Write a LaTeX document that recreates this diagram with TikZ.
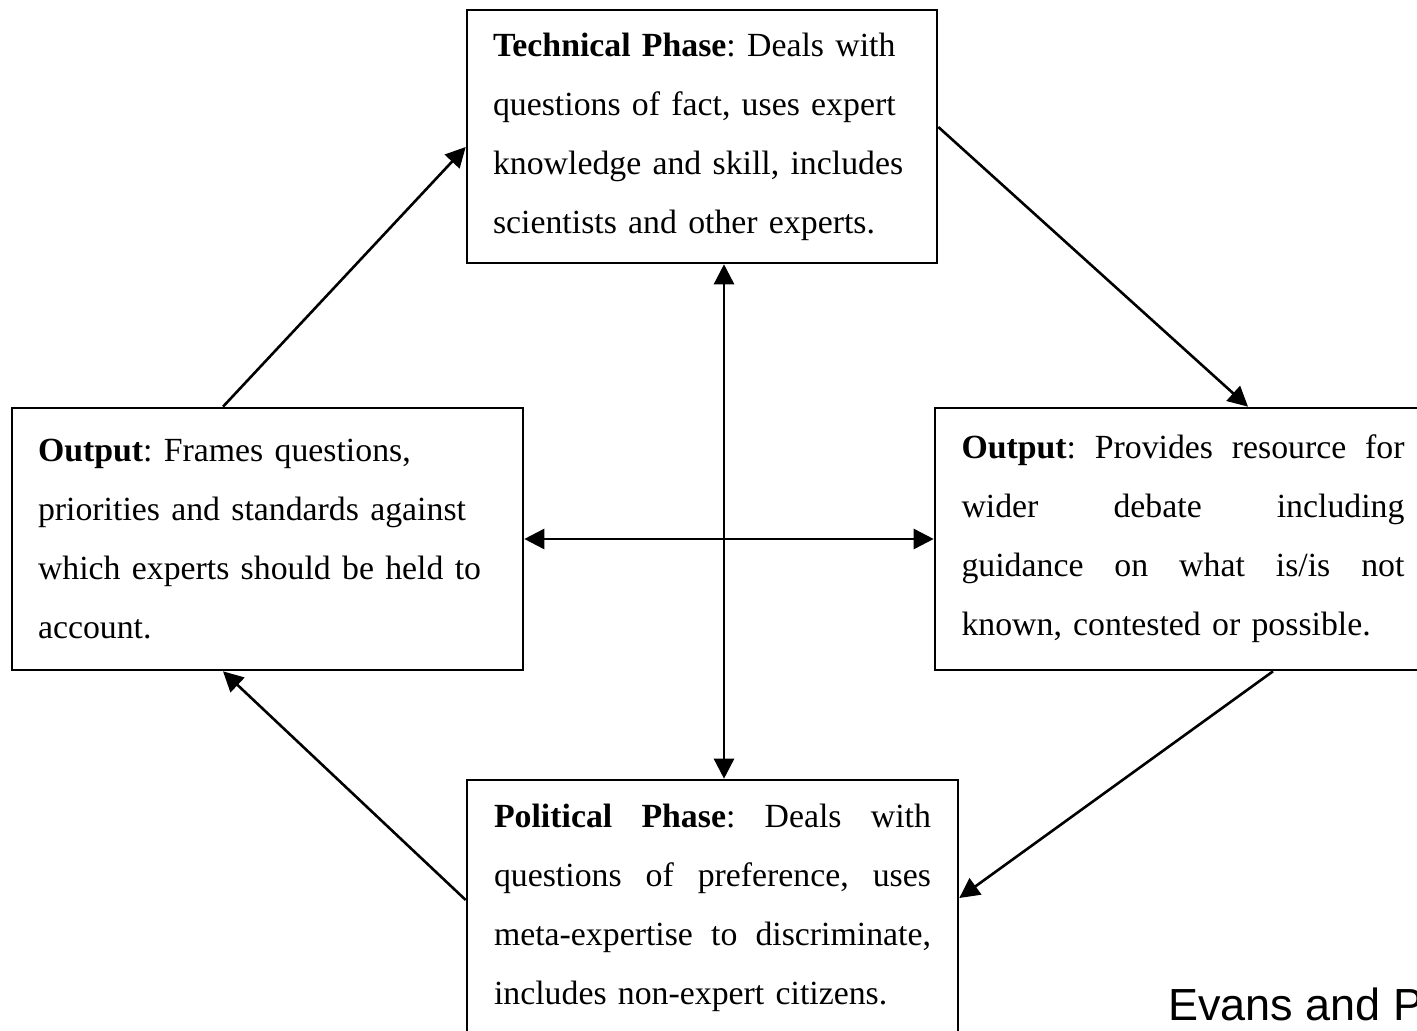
\documentclass[tikz,border=0pt]{standalone}
\usepackage{fontspec}
\setmainfont{Liberation Serif}
\newfontfamily\credfont{Liberation Sans}
\usepackage{tikz}
\usetikzlibrary{arrows.meta}
\tikzstyle{phase}=[rectangle,draw,line width=1.3pt,inner xsep=13pt,inner ysep=0pt,align=left,font=\frenchspacing\fontsize{16.9}{29.5}\selectfont]
\tikzstyle{link}=[line width=1.3pt,-{Triangle[length=10pt,width=10pt]}]
\tikzstyle{both}=[line width=1.3pt,{Triangle[length=10pt,width=10pt]}-{Triangle[length=10pt,width=10pt]}]
% justified line of a given width
\newcommand{\jline}[2]{\leavevmode\hbox to #1{\spaceskip=\fontdimen2\font plus 1fil\relax #2}}

\begin{document}
\begin{tikzpicture}[x=0.5pt,y=-0.5pt]
  \useasboundingbox (0,0) rectangle (1417,1031);

  % boxes
  \node[phase,text width=209pt,minimum height=126.5pt] (tech) at (702,136.5)
    {\textbf{Technical Phase}: Deals with\\questions of fact, uses expert\\knowledge and skill, includes\\scientists and other experts.};
  \node[phase,text width=229.5pt,minimum height=131pt] (outL) at (267.5,539)
    {\textbf{Output}: Frames questions,\\priorities and standards against\\which experts should be held to\\account.};
  \node[phase,text width=222pt,inner xsep=13.25pt,minimum height=131pt] (outR) at (1183.5,539)
    {\jline{221.5pt}{\textbf{Output}: Provides resource for}\\\jline{221.5pt}{wider debate including}\\\jline{221.5pt}{guidance on what is/is not}\\known, contested or possible.};
  \node[phase,text width=218.5pt,inner xsep=13.5pt,minimum height=127.5pt] (pol) at (712.5,907.5)
    {\jline{218.5pt}{\textbf{Political Phase}: Deals with}\\\jline{218.5pt}{questions of preference, uses}\\\jline{218.5pt}{meta-expertise to discriminate,}\\includes non-expert citizens.};

  % cycle
  \draw[link] ([xshift=-22.25pt]outL.north) -- ([yshift=-5.25pt]tech.west);
  \draw[link] ([yshift=4.75pt]tech.east) -- ([xshift=32.25pt]outR.north);
  \draw[link] ([xshift=44.75pt]outR.south) -- ([yshift=4.75pt]pol.east);
  \draw[link] ([yshift=3.75pt]pol.west) -- ([xshift=-22.25pt]outL.south);

  % cross
  \coordinate (mid) at (724,539);
  \draw[both] (tech.south -| mid) -- (pol.north -| mid);
  \draw[both] (outL.east |- mid) -- (outR.west |- mid);

  \node[anchor=base west,inner sep=0pt,font=\credfont\fontsize{22.5}{27}\selectfont] (cite) at (1168,1020) {Evans and P};
\end{tikzpicture}
\end{document}
